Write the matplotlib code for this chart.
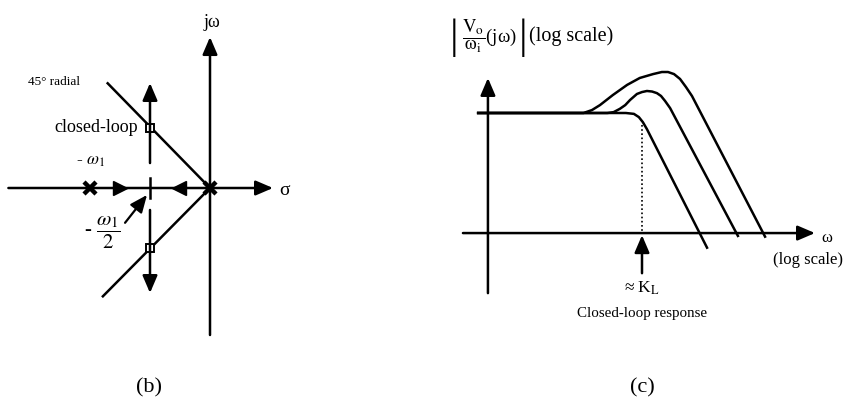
import matplotlib
matplotlib.use("Agg")
import matplotlib.pyplot as plt

plt.rcParams['font.family'] = ['Liberation Serif', 'DejaVu Serif']
plt.rcParams['mathtext.fontset'] = 'stix'

# ---------------- Panel (b): root locus, s-plane in units of omega_1 ----------------
open_loop_poles_sigma = [-1.0, 0.0]
breakaway_sigma = -0.5
closed_loop_sigma = [-0.5, -0.5]
closed_loop_omega = [0.5, -0.5]
radial_sigma = [-0.86, 0.0, -0.9]
radial_omega = [0.88, 0.0, -0.91]
jw_axis_omega = [-1.225, 1.258]
sigma_axis = [-1.68, 0.525]
locus_up_omega = [0.208, 0.875]
locus_tick_omega = [0.083, -0.083]
locus_down_omega = [-0.183, -0.875]
real_axis_arrow_right = -0.75
real_axis_arrow_left = -0.26

# ---------------- Panel (c): magnitude response, log-log ----------------
cl_w = [0.023, 0.69, 0.83, 0.93, 1.02, 1.12, 4.47]
cl_mag = [1.0, 1.0, 0.98, 0.91, 0.81, 0.69, 0.045]
mid_w = [0.023, 0.45, 0.52, 0.60, 0.68, 0.76, 0.89, 1.0, 1.12, 1.26, 1.41, 1.55, 1.70, 1.91, 9.1]
mid_mag = [1.0, 1.0, 1.02, 1.10, 1.20, 1.35, 1.55, 1.62, 1.66, 1.64, 1.58, 1.48, 1.32, 1.12, 0.059]
hi_w = [0.023, 0.26, 0.316, 0.38, 0.51, 0.71, 0.95, 1.29, 1.58, 1.82, 2.09, 2.40, 2.75, 3.16, 17.0]
hi_mag = [1.0, 1.0, 1.07, 1.20, 1.51, 1.91, 2.24, 2.45, 2.57, 2.57, 2.45, 2.19, 1.82, 1.48, 0.058]
K_L = 1.0
yaxis_w = 0.0288
yaxis_mag = [0.0158, 2.24]
xaxis_mag = 0.063
xaxis_w = [0.0162, 53.7]

W, H = 854, 408
fig = plt.figure(figsize=(W / 100, H / 100), dpi=100)
fig.patch.set_facecolor('white')

LW = 1.8
AP = dict(arrowstyle='-|>,head_length=1.05,head_width=0.45', color='k', lw=LW,
          shrinkA=0, shrinkB=0, mutation_scale=10)

# ---- (b)
axb = fig.add_axes([0, 0, 300 / W, 1])
axb.set_xlim(-1.75, 0.75)
axb.set_ylim(-1.8333, 1.5667)
axb.axis('off')

axb.annotate('', xy=(0, jw_axis_omega[1]), xytext=(0, jw_axis_omega[0]), arrowprops=AP)
axb.annotate('', xy=(sigma_axis[1], 0), xytext=(sigma_axis[0], 0), arrowprops=AP)
axb.plot(radial_sigma, radial_omega, color='k', lw=LW, solid_capstyle='butt')
axb.annotate('', xy=(breakaway_sigma, locus_up_omega[1]),
             xytext=(breakaway_sigma, locus_up_omega[0]), arrowprops=AP)
axb.annotate('', xy=(breakaway_sigma, locus_down_omega[1]),
             xytext=(breakaway_sigma, locus_down_omega[0]), arrowprops=AP)
axb.plot([breakaway_sigma, breakaway_sigma], locus_tick_omega, color='k', lw=LW)
axb.plot([real_axis_arrow_right], [0], marker='>', ms=10, color='k', mec='k')
axb.plot([real_axis_arrow_left], [0], marker='<', ms=10, color='k', mec='k')
axb.plot(open_loop_poles_sigma, [0, 0], ls='none', marker='x', ms=8, mew=3.2, color='k')
axb.plot(closed_loop_sigma, closed_loop_omega, ls='none', marker='s', ms=6,
         mfc='white', mec='k', mew=1.4)
axb.annotate('', xy=(-0.525, -0.058), xytext=(-0.708, -0.29),
             arrowprops=dict(AP, lw=1.6))

axb.text(0.017, 1.383, 'jω', fontsize=13, ha='center', va='center')
axb.text(0.617, -0.017, 'σ', fontsize=14, ha='center', va='center')
axb.text(-1.517, 0.883, '45° radial', fontsize=9.5, ha='left', va='center')
axb.text(-0.6, 0.508, 'closed-loop', fontsize=13, ha='right', va='center')
axb.text(-1.0, 0.225, r'- $\omega_1$', fontsize=12.5, ha='center', va='center')
axb.text(-0.9, -0.375, r'- $\dfrac{\omega_1}{2}$', fontsize=15, ha='center', va='center')
axb.text(-0.508, -1.667, '(b)', fontsize=16, ha='center', va='center')

# ---- (c)
axc = fig.add_axes([380 / W, 0, 474 / W, 1])
axc.set_xscale('log')
axc.set_yscale('log')
axc.set_xlim(10 ** -2.62, 10 ** 2.12)
axc.set_ylim(10 ** -2.95, 10 ** 1.13)
axc.axis('off')

axc.annotate('', xy=(yaxis_w, yaxis_mag[1]), xytext=(yaxis_w, yaxis_mag[0]), arrowprops=AP)
axc.annotate('', xy=(xaxis_w[1], xaxis_mag), xytext=(xaxis_w[0], xaxis_mag), arrowprops=AP)

for w, m in [(hi_w, hi_mag), (mid_w, mid_mag), (cl_w, cl_mag)]:
    axc.plot(w, m, color='k', lw=LW, solid_joinstyle='round')

axc.plot([K_L, K_L], [0.76, xaxis_mag], color='k', lw=1.2, ls=(0, (1, 1.5)))
axc.annotate('', xy=(K_L, 0.060), xytext=(K_L, 0.025), arrowprops=AP)

axc.text(K_L, 0.0178, r'≈ K$_\mathrm{L}$', fontsize=12.5, ha='center', va='center')
axc.text(K_L, 0.0100, 'Closed-loop response', fontsize=10.8, ha='center', va='center')
axc.text(K_L, 0.00178, '(c)', fontsize=16, ha='center', va='center')
axc.text(70.8, 0.056, 'ω', fontsize=12, ha='center', va='center')
axc.text(45.7, 0.034, '(log scale)', fontsize=12, ha='center', va='center')
# y-axis label |Vo/ωi (jω)| (log scale)
axc.text(0.0132, 5.6, '|', fontsize=31, ha='center', va='center')
axc.text(0.0160, 5.9, r'$\dfrac{\mathrm{V_o}}{\mathrm{\omega_i}}$(jω)',
         fontsize=13.5, ha='left', va='center')
axc.text(0.0640, 5.6, '|', fontsize=31, ha='center', va='center')
axc.text(0.0740, 5.9, '(log scale)', fontsize=14.5, ha='left', va='center')

fig.savefig('out.png', dpi=100, facecolor='white')
